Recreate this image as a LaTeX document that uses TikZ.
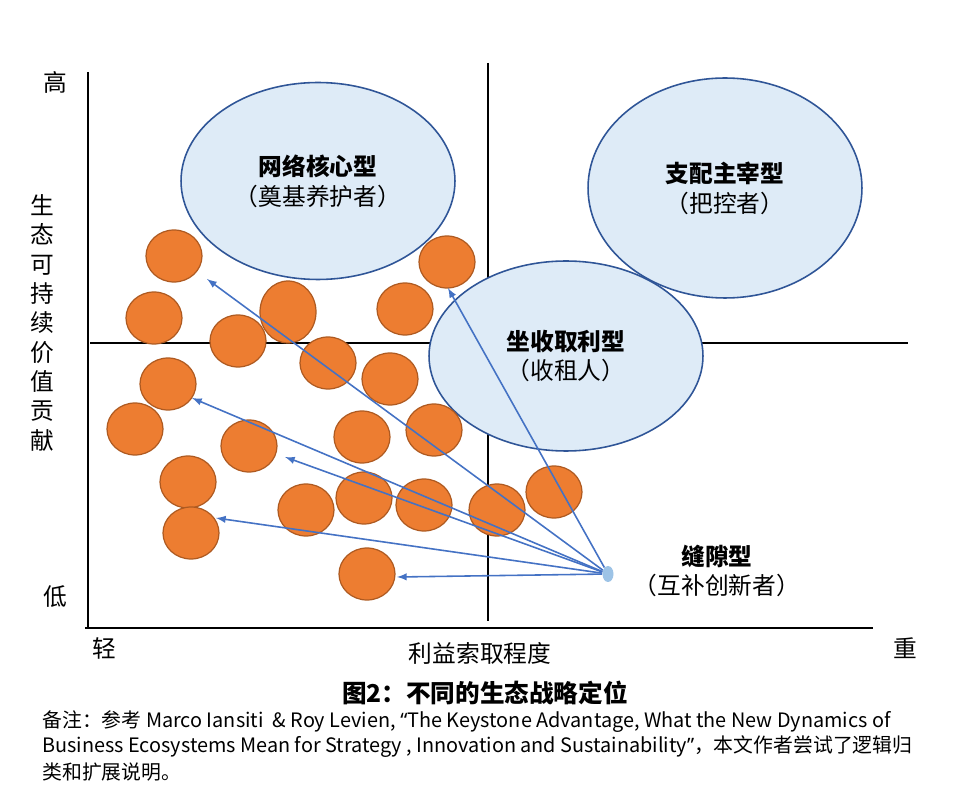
\documentclass[tikz,border=0pt]{standalone}
\usepackage{fontspec}
\setmainfont{Noto Sans CJK SC}
\newfontfamily\quotefont{Noto Sans}
\usetikzlibrary{shapes.geometric}
\definecolor{orangefill}{HTML}{ED7D31}
\definecolor{orangeline}{HTML}{AE5A21}
\definecolor{bluefill}{HTML}{DEEBF7}
\definecolor{blueline}{HTML}{2F5597}
\definecolor{arrowblue}{HTML}{4472C4}
\definecolor{dotblue}{HTML}{9DC3E6}
\tikzstyle{axis}=[line width=1.2pt]
\tikzstyle{player}=[ellipse,draw=blueline,fill=bluefill,line width=0.9pt,inner sep=0pt,minimum width=5.48cm,align=center,font=\fontsize{13.5}{17}\selectfont]
\tikzstyle{firm}=[ellipse,draw=orangeline,fill=orangefill,line width=0.7pt,inner sep=0pt,minimum width=1.12cm,minimum height=1.04cm]
\tikzstyle{link}=[-latex,arrowblue,line width=0.9pt]
\tikzstyle{lbl}=[inner sep=0pt,font=\fontsize{13.5}{16.7}\selectfont]
\tikzstyle{note}=[inner sep=0pt,anchor=west,font=\fontsize{11.3}{12}\selectfont]

\begin{document}
\begin{tikzpicture}[x=0.02cm,y=-0.02cm]  % 1 unit = 1 px of the original
\useasboundingbox (0,0) rectangle (957,807);

% quadrant lines
\draw[axis] (88,72) -- (88,628);
\draw[axis] (85,628) -- (873,628);
\draw[axis] (488,63) -- (488,621);
\draw[axis] (90,343) -- (908,343);

% axis labels
\node[lbl] (high) at (55,82) {高};
\node[lbl] (low) at (55,597) {低};
\node[lbl] (light) at (104,648) {轻};
\node[lbl] (heavy) at (905,648) {重};
\node[lbl] (xlabel) at (480,653) {利益索取程度};
\node[lbl,align=center] (ylabel) at (42,323) {生\\态\\可\\持\\续\\价\\值\\贡\\献};

% the three big players
\node[player,minimum height=3.94cm] (network) at (318,181) {\textbf{网络核心型}\\（奠基养护者）};
\node[player,minimum height=4.4cm] (dominator) at (725,188) {\textbf{支配主宰型}\\（把控者）};
\node[player,minimum height=3.8cm] (landlord) at (566,356) {\textbf{坐收取利型}\\（收租人）};

% niche firms
\node[firm] (c1) at (174,256) {};
\node[firm] (c2) at (447,262) {};
\node[firm] (c3) at (154,318) {};
\node[firm,minimum height=1.24cm] (c4) at (288,312) {};
\node[firm] (c5) at (405,309) {};
\node[firm] (c6) at (238,341) {};
\node[firm] (c7) at (328,363) {};
\node[firm] (c8) at (390,379) {};
\node[firm] (c9) at (168,384) {};
\node[firm] (c10) at (135,429) {};
\node[firm] (c11) at (249,446) {};
\node[firm] (c12) at (362,437) {};
\node[firm] (c13) at (434,430) {};
\node[firm] (c14) at (188,482) {};
\node[firm] (c15) at (306,510) {};
\node[firm] (c16) at (364,498) {};
\node[firm] (c17) at (424,505) {};
\node[firm] (c18) at (497,510) {};
\node[firm] (c19) at (554,492) {};
\node[firm] (c20) at (191,533) {};
\node[firm] (c21) at (367,574) {};

% gap player and its arrows
\node[ellipse,fill=dotblue,inner sep=0pt,minimum width=0.22cm,minimum height=0.32cm] (gap) at (608,574) {};
\node[lbl,align=center,font=\fontsize{13.5}{17}\selectfont] (gaptext) at (717,571) {\textbf{缝隙型}\\（互补创新者）};

\coordinate (t1) at (207,279);
\coordinate (t2) at (448,288);
\coordinate (t3) at (192,398);
\coordinate (t4) at (285,457);
\coordinate (t5) at (216,518);
\coordinate (t6) at (397,577);
\draw[link] (gap) -- (t1);
\draw[link] (gap) -- (t2);
\draw[link] (gap) -- (t3);
\draw[link] (gap) -- (t4);
\draw[link] (gap) -- (t5);
\draw[link] (gap) -- (t6);

% caption and note
\node[lbl,font=\fontsize{14}{17}\selectfont\bfseries] (caption) at (485,693) {图2：不同的生态战略定位};
\node[note] (note1) at (42,722) {备注：参考 Marco Iansiti\ \ \& Roy Levien, {\quotefont “}The Keystone Advantage, What the New Dynamics of};
\node[note] (note2) at (42,747) {Business Ecosystems Mean for Strategy , Innovation and Sustainability{\quotefont ”}，本文作者尝试了逻辑归};
\node[note] (note3) at (42,772) {类和扩展说明。};
\end{tikzpicture}
\end{document}
